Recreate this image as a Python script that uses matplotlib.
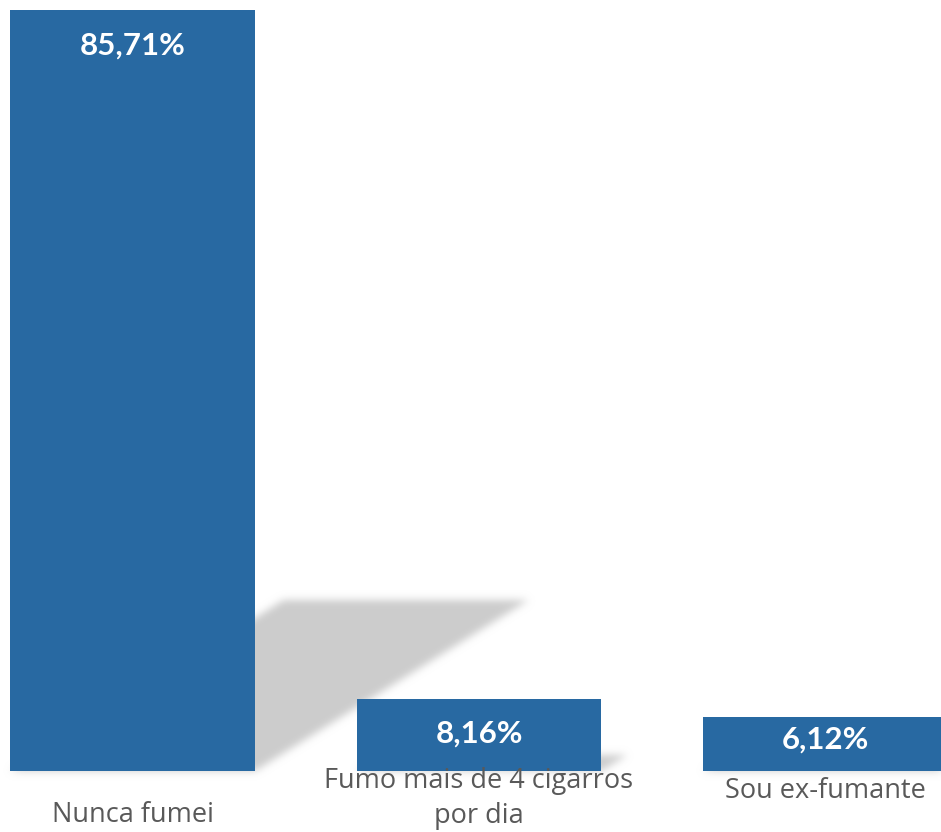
import matplotlib

matplotlib.use('Agg')
import numpy as np
import matplotlib.pyplot as plt
from matplotlib.path import Path
from matplotlib.transforms import offset_copy

# Data
categories = ['Nunca fumei', 'Fumo mais de 4 cigarros\npor dia', 'Sou ex-fumante']
values = [85.71, 8.16, 6.12]
value_labels = ['85,71%', '8,16%', '6,12%']

bar_color = '#2869A2'
text_color = '#595959'
shadow_color = (0.80, 0.80, 0.80)

plt.rcParams['font.family'] = ['Lato', 'DejaVu Sans']

W, H, DPI = 941, 832, 100
fig = plt.figure(figsize=(W / DPI, H / DPI), dpi=DPI)
ax = fig.add_axes([0, 0, 1, 1])
ax.set_axis_off()

# one category every 346.5 px, first centred at 132.5 px; 8.879 px per percent
xlim = (-0.3824, 2.3333)
ylim = (-6.870, 86.836)
ax.set_xlim(*xlim)
ax.set_ylim(*ylim)

x = np.arange(len(values))
bar_width = 0.707
ax.bar(x, values, width=bar_width, color=bar_color, zorder=3)

# perspective shadow cast up and to the right, then blurred
fig.canvas.draw()
yy, xx = np.mgrid[0:H, 0:W]
pts = np.column_stack([xx.ravel() + 0.5, (H - yy.ravel() - 0.5)])
mask = np.zeros(H * W)
for xi, v in zip(x, values):
    h = v * 0.225
    dx = v * 0.36 * 8.879 / 346.5  # horizontal shift in category units
    poly = [(xi - bar_width / 2, 0), (xi + bar_width / 2, 0),
            (xi + bar_width / 2 + dx, h), (xi - bar_width / 2 + dx, h)]
    path = Path(ax.transData.transform(poly))
    mask = np.maximum(mask, path.contains_points(pts).astype(float))
mask = mask.reshape(H, W)

sigma = 4.0
k = np.arange(-12, 13)
kern = np.exp(-k ** 2 / (2 * sigma ** 2))
kern /= kern.sum()
mask = np.apply_along_axis(lambda r: np.convolve(r, kern, mode='same'), 1, mask)
mask = np.apply_along_axis(lambda c: np.convolve(c, kern, mode='same'), 0, mask)

rgba = np.zeros((H, W, 4))
rgba[..., :3] = shadow_color
rgba[..., 3] = np.clip(mask, 0, 1)
ax.imshow(rgba, extent=(*xlim, *ylim), aspect='auto',
          origin='upper', zorder=1, interpolation='nearest')
ax.set_xlim(*xlim)
ax.set_ylim(*ylim)

# value labels inside the bars (baseline offset below bar top, in pixels)
label_drop = [45, 44, 32]
for xi, v, lab, d in zip(x, values, value_labels, label_drop):
    tr = offset_copy(ax.transData, fig=fig, x=0, y=-d, units='dots')
    ax.text(xi, v, lab, transform=tr, ha='center', va='baseline',
            color='white', fontsize=22.5, fontweight='bold', zorder=4)

# category labels under the bars (baseline of first line below axis, in pixels)
cat_drop = [51, 17, 27]
line_gap = 35
for xi, cat, d in zip(x, categories, cat_drop):
    for k_line, line in enumerate(cat.split('\n')):
        tr = offset_copy(ax.transData, fig=fig, x=0, y=-(d + k_line * line_gap), units='dots')
        ax.text(xi, 0, line, transform=tr, ha='center', va='baseline',
                color=text_color, fontsize=19.5, family=['Open Sans', 'DejaVu Sans'],
                zorder=5)

fig.savefig('out.png', dpi=DPI)
